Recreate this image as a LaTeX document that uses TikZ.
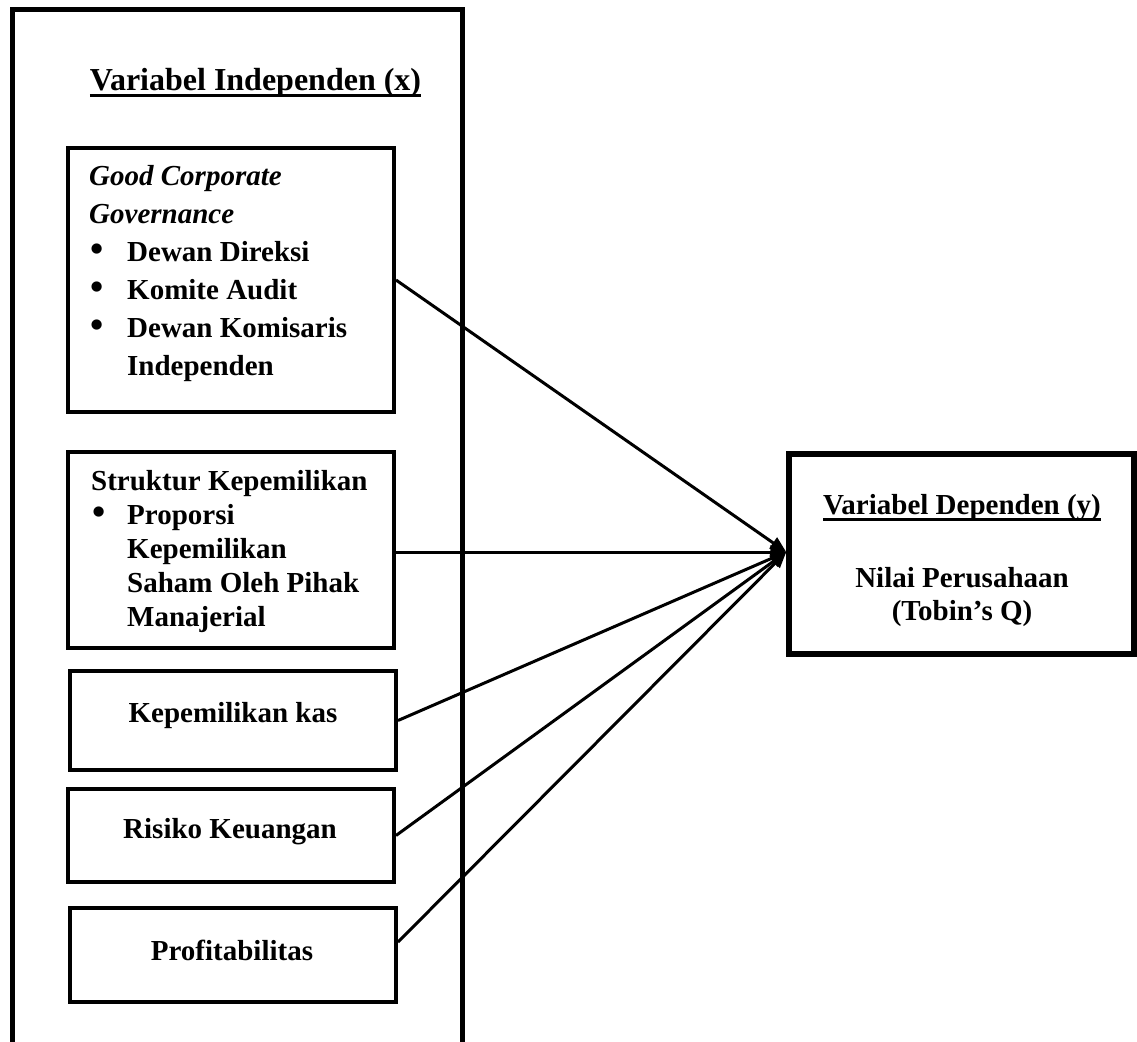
\documentclass[tikz,border=0pt]{standalone}
\usepackage{fontspec}
\setmainfont{Liberation Serif}
\usetikzlibrary{arrows.meta}
\newcommand\wordul[1]{\setbox0=\hbox{#1}\rlap{\rule[-6.5pt]{\wd0}{2.6pt}}\box0}
\newcommand\bul{\hspace*{1pt}\scalebox{1.3}{\textbullet}}
\tikzset{
  ivbox/.style={draw, line width=4pt, rectangle, inner sep=0pt},
  depbox/.style={draw, line width=5.5pt, rectangle, inner sep=0pt},
  txt/.style={inner sep=0pt, font=\fontsize{29}{38}\selectfont\bfseries},
  conn/.style={line width=3pt, -{Triangle[length=16pt,width=13pt]}}
}
\begin{document}
\begin{tikzpicture}[x=1pt,y=-1pt]
\useasboundingbox (0,0) rectangle (1137,1041);
\clip (0,0) rectangle (1137,1041);
\fill[white] (0,0) rectangle (1137,1041);
% outer frame (open at the bottom)
\draw[line width=5pt] (12,1060) -- (12,10) -- (462,10) -- (462,1060);
\node[txt, anchor=base, font=\fontsize{32}{38}\selectfont\bfseries] (ttl) at (255.5,90) {\wordul{Variabel Independen (x)}};

% boxes
\node[ivbox, minimum width=326pt, minimum height=264pt] (gcg) at (231,280) {};
\node[ivbox, minimum width=326pt, minimum height=196pt] (sk) at (231,550) {};
\node[ivbox, minimum width=326pt, minimum height=99pt] (kas) at (233,720.5) {};
\node[ivbox, minimum width=326pt, minimum height=93pt] (rk) at (231,835.5) {};
\node[ivbox, minimum width=326pt, minimum height=94pt] (prof) at (233,955) {};
\node[depbox, minimum width=345pt, minimum height=200pt] (dep) at (961.5,554) {};
\coordinate (tip) at ([yshift=2pt]dep.west);

% texts
\node[txt, anchor=base west] (gcgt) at (89,185) {\begin{tabular}[t]{@{}p{38pt}@{}l@{}}
\multicolumn{2}{@{}l@{}}{\textit{Good Corporate}}\\
\multicolumn{2}{@{}l@{}}{\textit{Governance}}\\
\bul & Dewan Direksi\\
\bul & Komite Audit\\
\bul & Dewan Komisaris\\
 & Independen
\end{tabular}};
\node[txt, anchor=base west, font=\fontsize{29}{34}\selectfont\bfseries] (skt) at (91,490) {\begin{tabular}[t]{@{}p{36pt}@{}l@{}}
\multicolumn{2}{@{}l@{}}{Struktur Kepemilikan}\\
\bul & Proporsi\\
 & Kepemilikan\\
 & Saham Oleh Pihak\\
 & Manajerial
\end{tabular}};
\node[txt, anchor=base] (kast) at (233,722) {Kepemilikan kas};
\node[txt, anchor=base] (rkt) at (230,838) {Risiko Keuangan};
\node[txt, anchor=base] (proft) at (232,960) {Profitabilitas};

\node[txt, anchor=base] (dept) at (962,514) {\wordul{Variabel Dependen (y)}};
\node[txt, anchor=base, font=\fontsize{29}{33}\selectfont\bfseries] (nilai) at (962,587) {\begin{tabular}[t]{@{}c@{}}Nilai Perusahaan\\(Tobin’s Q)\end{tabular}};

% connectors
\draw[conn] (gcg.east) -- (tip);
\draw[conn] ([yshift=-2pt]sk.east) -- (tip);
\draw[conn] (kas.east) -- (tip);
\draw[conn] (rk.east) -- (tip);
\draw[conn] ([yshift=13pt]prof.east) -- (tip);
\end{tikzpicture}
\end{document}
